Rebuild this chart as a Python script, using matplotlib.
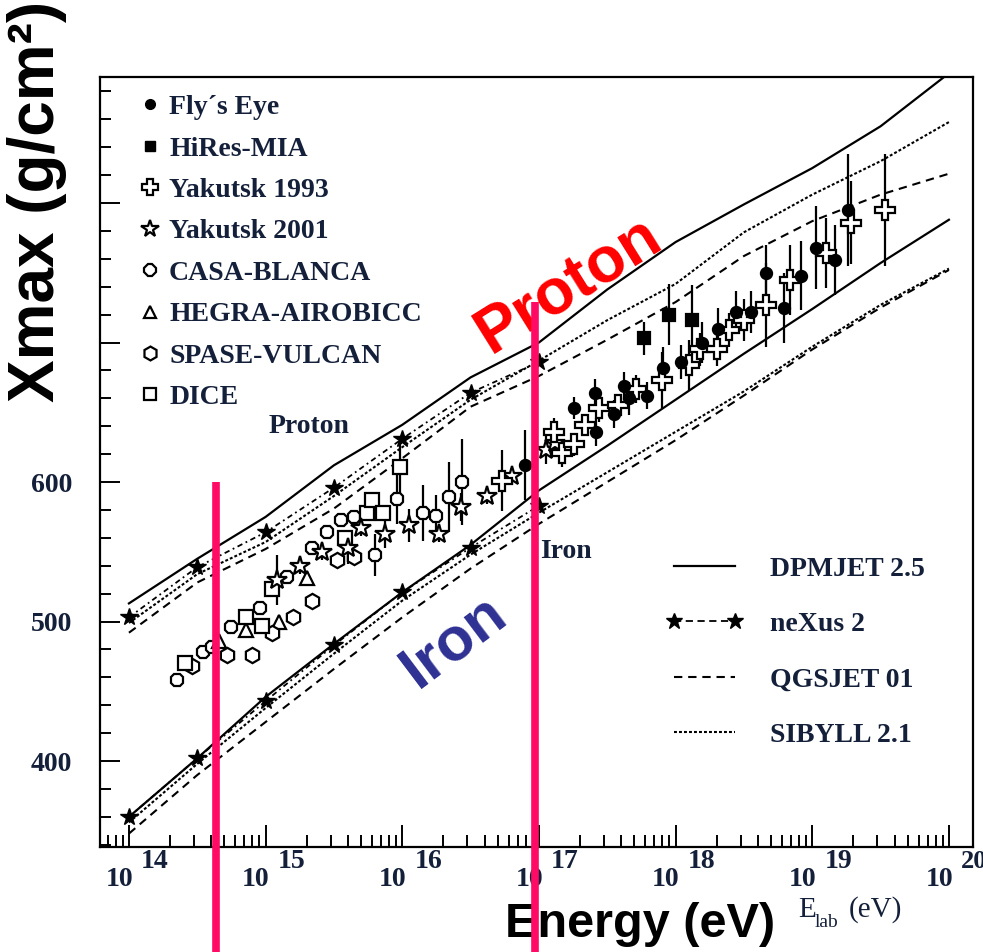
import numpy as np
import matplotlib.pyplot as plt
from matplotlib.lines import Line2D
from matplotlib.ticker import LogLocator, MultipleLocator, NullFormatter

# ---- model curves: log10(E/eV) and Xmax (g/cm^2) ----
lg_model = [14, 14.5, 15, 15.5, 16, 16.5, 17, 17.5, 18, 18.5, 19, 19.5, 20]
lg_nexus = [14, 14.5, 15, 15.5, 16, 16.5, 17]

p_dpmjet = [513, 545, 575, 612, 641, 675, 700, 738, 772, 799, 825, 855, 893]
p_nexus = [503, 539, 564, 596, 631, 664, 686]
p_qgsjet = [492, 528, 552, 581, 617, 654, 676, 702, 729, 762, 787, 806, 821]
p_sibyll = [499, 534, 557, 590, 625, 659, 687, 716, 742, 779, 806, 830, 858]

fe_dpmjet = [360, 402, 446, 484, 521, 555, 594, 626, 659, 692, 724, 757, 788]
fe_nexus = [360, 402, 443, 483, 521, 553, 583]
fe_qgsjet = [348, 390, 428, 466, 503, 538, 570, 600, 630, 662, 695, 725, 752]
fe_sibyll = [356, 398, 438, 477, 515, 548, 578, 607, 636, 665, 697, 727, 753]

# ---- measurements: log10(E/eV), Xmax, error ----
fly_lg = [16.9, 17.26, 17.41, 17.42, 17.55, 17.62, 17.66, 17.79, 17.91, 18.04,
          18.19, 18.31, 18.44, 18.55, 18.66, 18.79, 18.92, 19.03, 19.17, 19.26]
fly_x = [612, 653, 664, 636, 649, 669, 660, 662, 682, 686,
         700, 710, 722, 722, 750, 725, 748, 768, 759, 795]
fly_err = [25, 8, 10, 10, 10, 10, 12, 10, 15, 12,
           15, 15, 15, 15, 20, 25, 25, 30, 25, 40]

hires_lg = [17.77, 17.95, 18.12]
hires_x = [703, 720, 716]
hires_err = [12, 22, 25]

yak93_lg = [16.73, 17.11, 17.17, 17.26, 17.34, 17.44, 17.58, 17.71, 17.9, 18.1,
            18.18, 18.3, 18.39, 18.5, 18.66, 18.84, 19.1, 19.28, 19.53]
yak93_x = [601, 636, 621, 627, 641, 653, 655, 667, 673, 684,
           695, 695, 709, 716, 727, 745, 764, 786, 795]
yak93_err = [22, 10, 10, 8, 8, 10, 8, 10, 20, 18,
             12, 12, 12, 15, 30, 25, 25, 30, 40]

yak01_lg = [15.08, 15.25, 15.41, 15.6, 15.7, 15.87, 16.05, 16.27, 16.43, 16.62, 16.8, 17.05, 17.12]
yak01_x = [530, 540, 550, 553, 567, 563, 569, 563, 582, 590, 604, 623, 628]
yak01_err = [18, 6, 6, 12, 6, 10, 12, 6, 10, 6, 6, 10, 10]

casa_lg = [14.35, 14.54, 14.61, 14.75, 14.96, 15.16, 15.34, 15.45, 15.55, 15.65,
           15.8, 15.96, 16.15, 16.25, 16.34, 16.44]
casa_x = [458, 478, 482, 496, 510, 532, 553, 564, 573, 575,
          548, 588, 578, 576, 589, 600]
casa_err = [5, 5, 5, 5, 5, 5, 5, 5, 5, 5, 15, 18, 20, 15, 25, 31]

hegra_lg = [14.66, 14.86, 15.1, 15.3]
hegra_x = [486, 494, 500, 531]
hegra_err = [5, 5, 5, 5]

spase_lg = [14.46, 14.72, 14.9, 15.05, 15.2, 15.34, 15.52, 15.65]
spase_x = [468, 476, 476, 492, 503, 515, 544, 546]
spase_err = [5, 5, 5, 5, 5, 5, 5, 5]

dice_lg = [14.41, 14.86, 14.97, 15.05, 15.58, 15.74, 15.78, 15.86, 15.98]
dice_x = [470, 503, 497, 523, 560, 578, 587, 578, 611]
dice_err = [5, 5, 5, 5, 5, 5, 5, 5, 20]

serif = 'Liberation Serif'
sans = 'Liberation Sans'
txtcol = '#14203a'

fig = plt.figure(figsize=(9.83, 9.52), dpi=100)
ax = fig.add_axes([0.1017, 0.1103, 0.8881, 0.8088])

E = lambda lg: 10.0 ** np.array(lg)

# model lines
sty_q = (0, (4, 2.8))
sty_s = (0, (1.4, 1.0))
sty_n = (0, (3, 2, 1, 2))
for dp, nx, qg, sb in [(p_dpmjet, p_nexus, p_qgsjet, p_sibyll),
                       (fe_dpmjet, fe_nexus, fe_qgsjet, fe_sibyll)]:
    ax.plot(E(lg_model), dp, color='k', lw=1.6, ls='-')
    ax.plot(E(lg_model), qg, color='k', lw=1.5, ls=sty_q)
    ax.plot(E(lg_model), sb, color='k', lw=1.5, ls=sty_s)
    ax.plot(E(lg_nexus), nx, color='k', lw=1.3, ls=sty_n, marker='*', ms=13)

# measurements
def pts(lg, x, err, marker, filled, ms):
    ax.errorbar(E(lg), x, yerr=err, fmt=marker, ms=ms, mec='k', mew=1.6,
                mfc='k' if filled else 'white', ecolor='k', elinewidth=1.6,
                capsize=0, zorder=4)

pts(casa_lg, casa_x, casa_err, '8', False, 10)
pts(hegra_lg, hegra_x, hegra_err, '^', False, 10)
pts(spase_lg, spase_x, spase_err, 'h', False, 11)
pts(dice_lg, dice_x, dice_err, 's', False, 10)
pts(yak01_lg, yak01_x, yak01_err, '*', False, 15)
pts(yak93_lg, yak93_x, yak93_err, 'P', False, 14)
pts(hires_lg, hires_x, hires_err, 's', True, 8)
pts(fly_lg, fly_x, fly_err, 'o', True, 8)

# axes
ax.set_xscale('log')
ax.set_xlim(10 ** 13.788, 10 ** 20.176)
ax.set_ylim(338.4, 890.3)
ax.xaxis.set_major_locator(LogLocator(base=10, numticks=20))
ax.xaxis.set_minor_locator(LogLocator(base=10, subs=np.arange(2, 10), numticks=100))
ax.xaxis.set_major_formatter(NullFormatter())
ax.xaxis.set_minor_formatter(NullFormatter())
ax.set_yticks([400, 500, 600, 700, 800])
ax.set_yticklabels(['400', '500', '600', '', ''])
ax.yaxis.set_minor_locator(MultipleLocator(20))
ax.tick_params(which='both', direction='in', top=False, right=False, width=1.4)
ax.tick_params(axis='x', which='major', length=16)
ax.tick_params(axis='x', which='minor', length=8.5)
ax.tick_params(axis='y', which='major', length=14.5, pad=20)
ax.tick_params(axis='y', which='minor', length=8)
for lab in ax.get_yticklabels():
    lab.set_fontfamily(serif)
    lab.set_fontweight('bold')
    lab.set_fontsize(20)
    lab.set_color(txtcol)
for sp in ax.spines.values():
    sp.set_linewidth(1.6)

for k in range(14, 21):
    ax.annotate('10', xy=(10.0 ** k, 0), xycoords=('data', 'axes fraction'),
                xytext=(4, -33), textcoords='offset pixels', ha='right', va='center',
                family=serif, weight='bold', fontsize=20, color=txtcol,
                annotation_clip=False)
    ax.annotate(str(k), xy=(10.0 ** k, 0), xycoords=('data', 'axes fraction'),
                xytext=(12, -15), textcoords='offset pixels', ha='left', va='center',
                family=serif, weight='bold', fontsize=20 if k < 20 else 19, color=txtcol,
                annotation_clip=False)

# E_lab (eV)
fig.text(798 / 983, 1 - 917 / 952, 'E', family=serif, fontsize=21, color=txtcol, va='baseline')
fig.text(815 / 983, 1 - 927 / 952, 'lab', family=serif, fontsize=14, color=txtcol, va='baseline')
fig.text(849 / 983, 1 - 917 / 952, '(eV)', family=serif, fontsize=21, color=txtcol, va='baseline')

# inner labels
ax.text(10 ** 15.317, 640, 'Proton', family=serif, weight='bold', fontsize=20,
        color=txtcol, ha='center', va='center')
ax.text(10 ** 17.197, 550, 'Iron', family=serif, weight='bold', fontsize=20,
        color=txtcol, ha='center', va='center')

# legends
h1 = [Line2D([], [], ls='none', marker='o', mfc='k', mec='k', ms=7),
      Line2D([], [], ls='none', marker='s', mfc='k', mec='k', ms=7),
      Line2D([], [], ls='none', marker='P', mfc='white', mec='k', mew=1.6, ms=12),
      Line2D([], [], ls='none', marker='*', mfc='white', mec='k', mew=1.6, ms=13),
      Line2D([], [], ls='none', marker='8', mfc='white', mec='k', mew=1.6, ms=9),
      Line2D([], [], ls='none', marker='^', mfc='white', mec='k', mew=1.6, ms=9),
      Line2D([], [], ls='none', marker='h', mfc='white', mec='k', mew=1.6, ms=10),
      Line2D([], [], ls='none', marker='s', mfc='white', mec='k', mew=1.6, ms=9)]
l1 = ['Fly\u00b4s Eye', 'HiRes-MIA', 'Yakutsk 1993', 'Yakutsk 2001', 'CASA-BLANCA',
      'HEGRA-AIROBICC', 'SPASE-VULCAN', 'DICE']
leg1 = ax.legend(h1, l1, loc='upper left', bbox_to_anchor=(0.041, 0.977),
                 frameon=False, numpoints=1, handlelength=1.0, handletextpad=0.2,
                 borderpad=0, borderaxespad=0, labelspacing=0.575,
                 prop={'family': serif, 'weight': 'bold', 'size': 20})
for t in leg1.get_texts():
    t.set_color(txtcol)
ax.add_artist(leg1)

h2 = [Line2D([], [], color='k', lw=1.6, ls='-'),
      Line2D([], [], color='k', lw=1.3, ls=(0, (4, 2.5)), marker='*', ms=12),
      Line2D([], [], color='k', lw=1.5, ls=sty_q),
      Line2D([], [], color='k', lw=1.5, ls=sty_s)]
l2 = ['DPMJET 2.5', 'neXus 2', 'QGSJET 01', 'SIBYLL 2.1']
leg2 = ax.legend(h2, l2, loc='upper left', bbox_to_anchor=(0.648, 0.3775),
                 frameon=False, numpoints=2, handlelength=2.8, handletextpad=0.95,
                 borderpad=0, borderaxespad=0, labelspacing=1.08,
                 prop={'family': serif, 'weight': 'bold', 'size': 20})
for t in leg2.get_texts():
    t.set_color(txtcol)

# overlay annotations
ax.text(0.0376, 0.788, 'Xmax (g/cm\u00b2)', transform=fig.transFigure, rotation=90,
        family=sans, weight='bold', fontsize=46, ha='center', va='center', zorder=6)
ax.text(640 / 983, 1 - 937 / 952, 'Energy (eV)', transform=fig.transFigure,
        family=sans, weight='bold', fontsize=35, ha='center', va='baseline', zorder=6)
ax.text(569 / 983, 1 - 285 / 952, 'Proton', transform=fig.transFigure, rotation=32,
        rotation_mode='anchor', family=sans, weight='bold', fontsize=46,
        color='#ff0000', ha='center', va='center', zorder=6)
ax.text(454 / 983, 1 - 642 / 952, 'Iron', transform=fig.transFigure, rotation=37,
        rotation_mode='anchor', family=sans, weight='bold', fontsize=44,
        color='#2e3192', ha='center', va='center', zorder=6)

# marker lines
for lg, top in [(14.64, 600), (16.97, 729)]:
    ax.plot([10 ** lg, 10 ** lg], [top, 263], color='#ff0a64', lw=5.5,
            solid_capstyle='butt', clip_on=False, zorder=10)

fig.savefig('out.png', dpi=100)
